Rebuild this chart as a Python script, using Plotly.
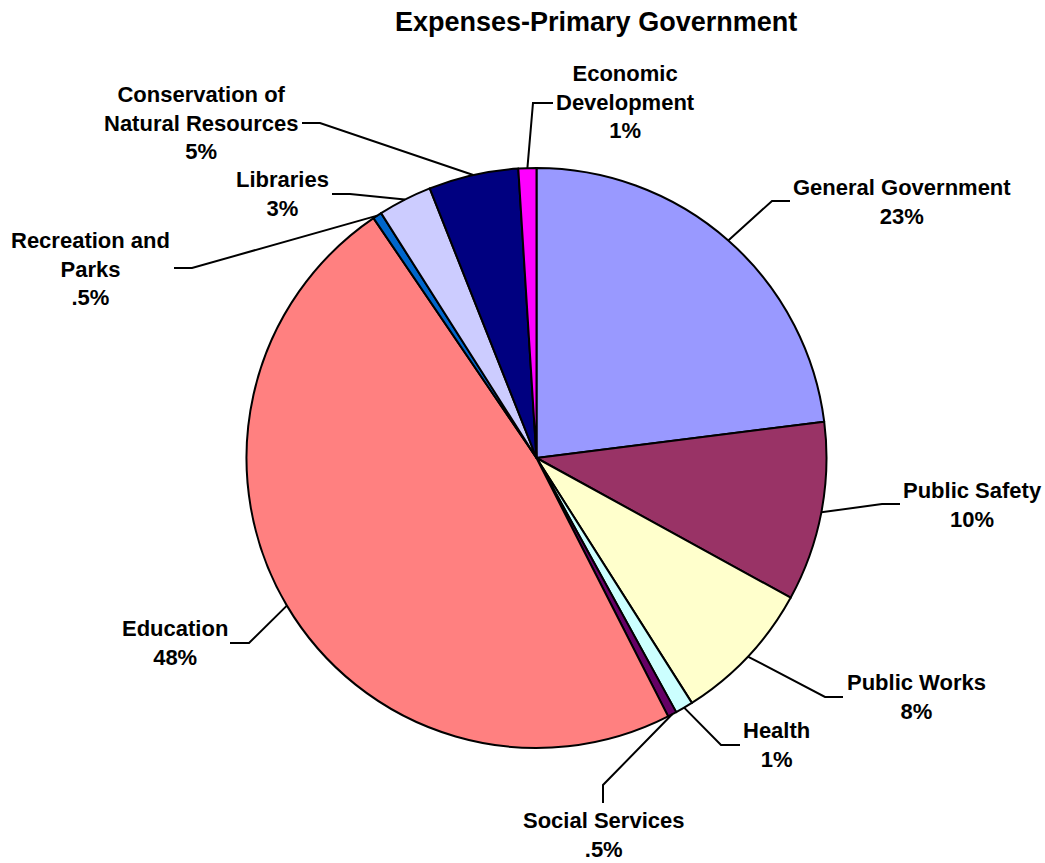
import math
import plotly.graph_objects as go

# Expense categories (clockwise from 12 o'clock) and their shares in percent
categories = [
    "General Government", "Public Safety", "Public Works", "Health",
    "Social Services", "Education", "Recreation and Parks", "Libraries",
    "Conservation of Natural Resources", "Economic Development",
]
shares = [23, 10, 8, 1, 0.5, 48, 0.5, 3, 5, 1]
label_lines = [
    ["General Government"], ["Public Safety"], ["Public Works"], ["Health"],
    ["Social Services"], ["Education"], ["Recreation and", "Parks"], ["Libraries"],
    ["Conservation of", "Natural Resources"], ["Economic", "Development"],
]
colors = [
    "#9999FF", "#993366", "#FFFFCC", "#CCFFFF", "#660066",
    "#FF8080", "#0066CC", "#CCCCFF", "#000080", "#FF00FF",
]

W, H = 1045, 863
CX, CY, R = 536.5, 458, 290
FONT = "Arial, 'Liberation Sans', sans-serif"

# Leader-line elbow / end points and label block centres, in page pixels
callout = {
    "General Government": dict(elbow=(772, 201), end=(790, 201), text=(902, 202)),
    "Public Safety": dict(elbow=(882, 504), end=(900, 504), text=(972, 505)),
    "Public Works": dict(elbow=(825, 697), end=(843, 697), text=(916, 697)),
    "Health": dict(elbow=(721, 745), end=(740, 745), text=(776, 745)),
    "Social Services": dict(elbow=(603, 785), end=(603, 803), text=(603, 835)),
    "Education": dict(elbow=(249, 643), end=(230, 643), text=(175, 643)),
    "Recreation and Parks": dict(elbow=(192, 268), end=(174, 268), text=(90, 269)),
    "Libraries": dict(elbow=(350, 194), end=(332, 194), text=(282, 194)),
    "Conservation of Natural Resources": dict(elbow=(320, 123), end=(302, 123), text=(201, 123)),
    "Economic Development": dict(elbow=(533, 103), end=(553, 103), text=(625, 102)),
}


def fmt_pct(v):
    s = f"{v:g}%"
    return s[1:] if s.startswith("0.") else s


def px(x, y):
    return x / W, 1 - y / H


fig = go.Figure(go.Pie(
    labels=categories,
    values=shares,
    sort=False,
    direction="clockwise",
    rotation=0,
    textinfo="none",
    hoverinfo="label+percent",
    marker=dict(colors=colors, line=dict(color="black", width=2)),
    domain=dict(x=[(CX - R) / W, (CX + R) / W], y=[1 - (CY + R) / H, 1 - (CY - R) / H]),
    showlegend=False,
))

shapes, annotations = [], []
total = sum(shares)
cum = 0.0
for name, val, lines in zip(categories, shares, label_lines):
    mid = (cum + val / 2) / total * 2 * math.pi
    cum += val
    ex, ey = CX + R * math.sin(mid), CY - R * math.cos(mid)
    c = callout[name]
    pts = [(ex, ey), c["elbow"], c["end"]]
    path = "M " + " L ".join(f"{px(x, y)[0]},{px(x, y)[1]}" for x, y in pts)
    shapes.append(dict(type="path", path=path, xref="paper", yref="paper",
                       line=dict(color="black", width=2)))
    tx, ty = px(*c["text"])
    annotations.append(dict(
        x=tx, y=ty, xref="paper", yref="paper", xanchor="center", yanchor="middle",
        text="<br>".join(f"<b>{t}</b>" for t in lines + [fmt_pct(val)]),
        showarrow=False, align="center",
        font=dict(family=FONT, size=22, color="black"),
    ))

tx, ty = px(596, 22)
annotations.append(dict(
    x=tx, y=ty, xref="paper", yref="paper", xanchor="center", yanchor="middle",
    text="<b>Expenses-Primary Government</b>", showarrow=False,
    font=dict(family=FONT, size=27, color="black"),
))

fig.update_layout(
    width=W, height=H,
    margin=dict(l=0, r=0, t=0, b=0),
    paper_bgcolor="white", plot_bgcolor="white",
    shapes=shapes, annotations=annotations,
)

fig.write_html("out.html")
